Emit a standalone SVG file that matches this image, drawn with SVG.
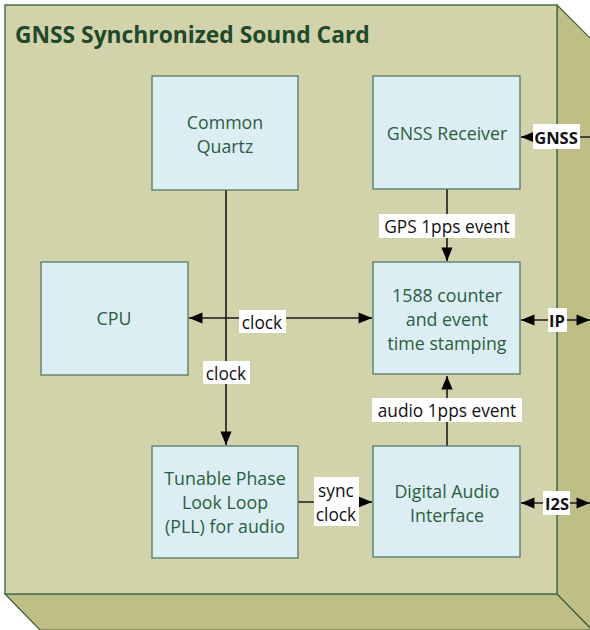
<svg xmlns="http://www.w3.org/2000/svg" width="590" height="630" viewBox="0 0 590 630">
  <style>
    .face { fill: #D2D2AB; stroke: #4E6E50; stroke-width: 1.5; }
    .side { fill: #BEBE85; stroke: #3E5E40; stroke-width: 1.2; }
    .box { fill: #DAEEF3; stroke: #527A62; stroke-width: 1.3; }
    .btxt { font-family: "Open Sans", Lato, sans-serif; font-size: 17.8px; fill: #2C5E3E; text-anchor: middle; dominant-baseline: central; }
    .title { font-family: "Open Sans", Lato, sans-serif; font-size: 22.8px; font-weight: bold; fill: #1E4A2A; }
    .ln { stroke: #1A1A1A; stroke-width: 1.6; fill: none; }
    .lbg { fill: #FFFFFF; }
    .ltxt { font-family: "Open Sans", Lato, sans-serif; font-size: 17.3px; fill: #111111; text-anchor: middle; dominant-baseline: central; }
    .lbold { font-weight: bold; font-size: 16.5px; }
  </style>
  <defs>
    <marker id="arr" viewBox="0 0 12 10" refX="12" refY="5" markerWidth="8.5" markerHeight="7" orient="auto-start-reverse" markerUnits="strokeWidth">
      <path d="M0,0 L12,5 L0,10 z" fill="#000000"/>
    </marker>
  </defs>

  <!-- card body: front face with right and bottom depth faces -->
  <g id="card">
    <polygon class="side" points="557,5 592,40 592,630 557,594"/>
    <polygon class="side" points="5,594 557,594 592,630 40,630"/>
    <rect class="face" x="5" y="5" width="552" height="589"/>
    <text class="title" x="15" y="43">GNSS Synchronized Sound Card</text>
  </g>

  <!-- connectors -->
  <g id="connectors">
    <line class="ln" x1="226" y1="190" x2="226" y2="445" marker-end="url(#arr)"/>
    <line class="ln" x1="189" y1="318" x2="372" y2="318" marker-start="url(#arr)" marker-end="url(#arr)"/>
    <line class="ln" x1="447" y1="189" x2="447" y2="261" marker-end="url(#arr)"/>
    <line class="ln" x1="447" y1="446" x2="447" y2="376" marker-end="url(#arr)"/>
    <line class="ln" x1="298" y1="502" x2="372" y2="502" marker-end="url(#arr)"/>
    <line class="ln" x1="592" y1="137" x2="521" y2="137" marker-end="url(#arr)"/>
    <line class="ln" x1="521" y1="320" x2="590" y2="320" marker-start="url(#arr)" marker-end="url(#arr)"/>
    <line class="ln" x1="521" y1="503" x2="590" y2="503" marker-start="url(#arr)" marker-end="url(#arr)"/>

    <rect class="lbg" x="379" y="214" width="136" height="24"/>
    <text class="ltxt" x="447" y="226">GPS 1pps event</text>
    <rect class="lbg" x="239" y="310" width="47" height="23"/>
    <text class="ltxt" x="262" y="322">clock</text>
    <rect class="lbg" x="203" y="361" width="47" height="23"/>
    <text class="ltxt" x="226" y="373">clock</text>
    <rect class="lbg" x="372" y="398" width="150" height="24"/>
    <text class="ltxt" x="447" y="410">audio 1pps event</text>
    <rect class="lbg" x="314" y="477" width="45" height="49"/>
    <text class="ltxt" x="336" y="490">sync</text>
    <text class="ltxt" x="336" y="514">clock</text>
    <rect class="lbg" x="533" y="124" width="47" height="25"/>
    <text class="ltxt lbold" x="556" y="137">GNSS</text>
    <rect class="lbg" x="548" y="308" width="19" height="24"/>
    <text class="ltxt lbold" x="557" y="320">IP</text>
    <rect class="lbg" x="543" y="491" width="27" height="24"/>
    <text class="ltxt lbold" x="557" y="503">I2S</text>
  </g>

  <g id="quartz">
    <rect class="box" x="152" y="76" width="146" height="114"/>
    <text class="btxt" x="225" y="122">Common</text>
    <text class="btxt" x="225" y="146">Quartz</text>
  </g>
  <g id="gnss-receiver">
    <rect class="box" x="373" y="76" width="147" height="113"/>
    <text class="btxt" x="447" y="133">GNSS Receiver</text>
  </g>
  <g id="cpu">
    <rect class="box" x="41" y="262" width="147" height="113"/>
    <text class="btxt" x="114" y="318">CPU</text>
  </g>
  <g id="counter">
    <rect class="box" x="373" y="262" width="147" height="112"/>
    <text class="btxt" x="447" y="295">1588 counter</text>
    <text class="btxt" x="447" y="319">and event</text>
    <text class="btxt" x="447" y="343">time stamping</text>
  </g>
  <g id="pll">
    <rect class="box" x="152" y="446" width="146" height="112"/>
    <text class="btxt" x="225" y="478">Tunable Phase</text>
    <text class="btxt" x="225" y="502">Look Loop</text>
    <text class="btxt" x="225" y="526">(PLL) for audio</text>
  </g>
  <g id="audio-interface">
    <rect class="box" x="373" y="446" width="147" height="111"/>
    <text class="btxt" x="447" y="491">Digital Audio</text>
    <text class="btxt" x="447" y="515">Interface</text>
  </g>
</svg>
